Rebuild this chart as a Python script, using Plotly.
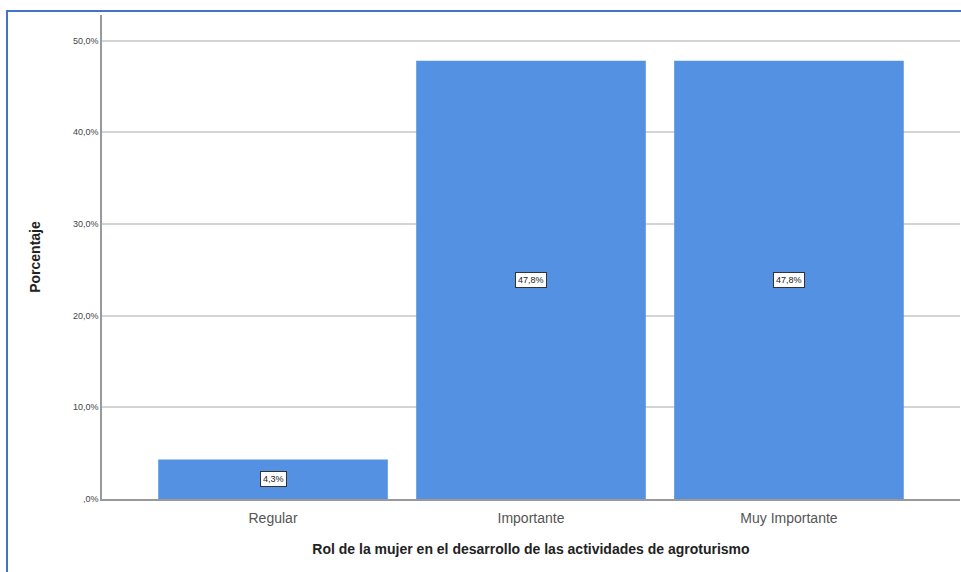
import plotly.graph_objects as go

# data
categorias = ["Regular", "Importante", "Muy Importante"]
porcentajes = [4.3, 47.8, 47.8]
etiquetas = ["4,3%", "47,8%", "47,8%"]
tick_vals = [0, 10, 20, 30, 40, 50]
tick_text = [",0%", "10,0%", "20,0%", "30,0%", "40,0%", "50,0%"]

FONT = "Liberation Sans, Arial, sans-serif"

trace = go.Bar(
    x=categorias,
    y=porcentajes,
    marker=dict(color="rgb(84,145,226)", line=dict(width=0)),
    hoverinfo="skip",
)

fig = go.Figure(data=[trace])

# value labels in white boxes, centred in each bar
for cat, val, txt in zip(categorias, porcentajes, etiquetas):
    fig.add_annotation(
        x=cat, y=val / 2, text=txt, showarrow=False,
        font=dict(family=FONT, size=9, color="#222"),
        bgcolor="white", bordercolor="#333", borderwidth=1, borderpad=2,
    )

# blue frame around the picture
fig.add_shape(
    type="rect", xref="paper", yref="paper",
    x0=-0.1107, x1=1.05, y0=-0.5, y1=1.0083,
    line=dict(color="rgb(68,114,196)", width=2), fillcolor="rgba(0,0,0,0)",
    layer="above",
)

fig.update_layout(
    width=961, height=572,
    margin=dict(l=102, r=1, t=15, b=73),
    paper_bgcolor="white", plot_bgcolor="white",
    bargap=0.11,
    showlegend=False,
    font=dict(family=FONT),
    xaxis=dict(
        range=[-0.663, 2.663],
        showline=True, linecolor="#999", linewidth=1.5,
        showgrid=False, ticks="", ticklabelstandoff=5,
        tickfont=dict(size=14, color="#555"),
        title=dict(text="<b>Rol de la mujer en el desarrollo de las actividades de agroturismo</b>",
                   font=dict(size=14, color="#222"), standoff=20),
    ),
    yaxis=dict(
        range=[0, 52.8],
        tickvals=tick_vals, ticktext=tick_text,
        showline=True, linecolor="#999", linewidth=1.5,
        showgrid=True, gridcolor="#d4d4d4", gridwidth=1.5,
        zeroline=False, ticks="",
        tickfont=dict(size=9, color="#444"),
        title=dict(text="<b>Porcentaje</b>", font=dict(size=14, color="#222"), standoff=29),
    ),
)

fig.write_html("out.html", config={"displayModeBar": False},
               post_script="document.body.style.margin='0';")
